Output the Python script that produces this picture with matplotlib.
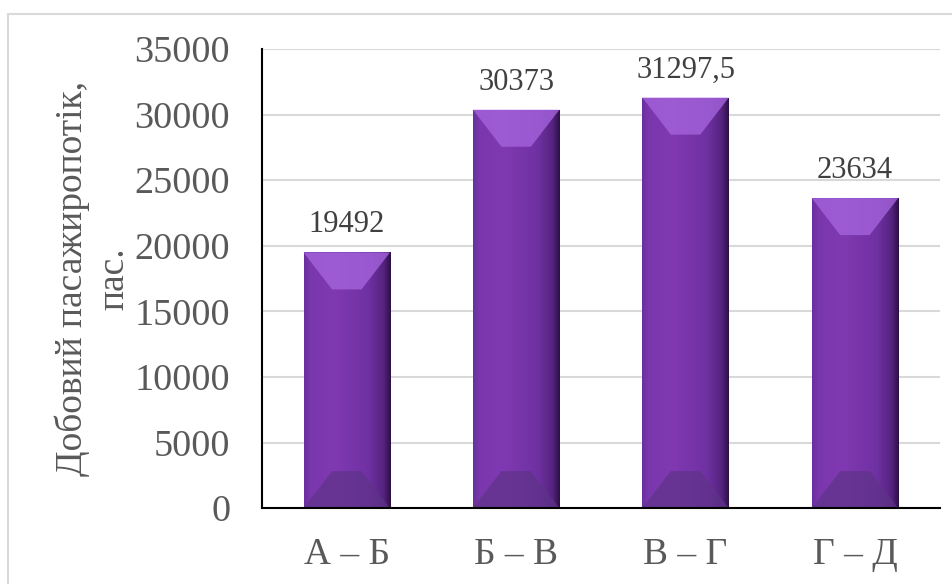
import numpy as np
import matplotlib.pyplot as plt
from matplotlib.patches import Polygon, Rectangle
from matplotlib.colors import LinearSegmentedColormap

# ділянки маршруту та добовий пасажиропотік
sections = ["А – Б", "Б – В", "В – Г", "Г – Д"]
flows = [19492, 30373, 31297.5, 23634]
flow_labels = ["19492", "30373", "31297,5", "23634"]
y_ticks = [0, 5000, 10000, 15000, 20000, 25000, 30000, 35000]

plt.rcParams['font.family'] = ['Liberation Serif', 'DejaVu Serif']

fig = plt.figure(figsize=(9.53, 5.84), dpi=100)
fig.patches.append(Rectangle((8 / 953, -0.05), 1.1, 1 - 14 / 584 + 0.05,
                             transform=fig.transFigure, fill=False,
                             edgecolor="#d9d9d9", linewidth=1.5, zorder=0))
ax = fig.add_axes([0.275, 0.130, 0.711, 0.786])

x = np.arange(len(sections))
bars = ax.bar(x, flows, width=0.51, color="none", edgecolor="none", zorder=3)

# горизонтальний градієнт для об'ємного вигляду стовпців
bar_cmap = LinearSegmentedColormap.from_list(
    "bevel", [(0.0, "#6a2f9e"), (0.08, "#7a37ad"), (0.35, "#8039b2"),
              (0.75, "#6f31a2"), (0.92, "#55237f"), (1.0, "#2c1045")])
grad = np.linspace(0, 1, 256).reshape(1, -1)

for b in bars:
    x0, w, h = b.get_x(), b.get_width(), b.get_height()
    im = ax.imshow(grad, cmap=bar_cmap, aspect="auto",
                   extent=(x0, x0 + w, 0, h), zorder=3)
    im.set_clip_path(b)
    # скоси зверху та знизу
    dx = w * 0.33
    dy = 35000 * 37 / 459
    top = Polygon([(x0, h), (x0 + w, h), (x0 + w - dx, h - dy), (x0 + dx, h - dy)],
                  closed=True, facecolor="#a463dc", alpha=0.8, edgecolor="none", zorder=4)
    bottom = Polygon([(x0, 0), (x0 + w, 0), (x0 + w - dx, dy), (x0 + dx, dy)],
                     closed=True, facecolor="#5e3388", alpha=0.7, edgecolor="none", zorder=4)
    ax.add_patch(top)
    ax.add_patch(bottom)

for b, lab in zip(bars, flow_labels):
    ax.text(b.get_x() + b.get_width() / 2, b.get_height() + 1000, lab,
            ha="center", va="bottom", fontsize=22, color="#404040", zorder=5)

ax.set_xlim(-0.5, len(sections) - 0.5)
ax.set_ylim(0, 35000)
ax.set_yticks(y_ticks)
ax.set_xticks(x)
ax.set_xticklabels(sections)
ax.tick_params(axis="x", length=0, labelsize=27, colors="#595959", pad=21)
ax.tick_params(axis="y", length=0, labelsize=27.5, colors="#595959", pad=23)
ax.yaxis.grid(True, color="#d9d9d9", linewidth=1.5, zorder=0)
ax.set_axisbelow(True)

for side in ["top", "right"]:
    ax.spines[side].set_visible(False)
for side in ["left", "bottom"]:
    ax.spines[side].set_color("black")
    ax.spines[side].set_linewidth(1.5)
    ax.spines[side].set_zorder(6)

ax.set_ylabel("Добовий пасажиропотік,\nпас.", fontsize=27, color="#595959",
              linespacing=1.25)
ax.yaxis.set_label_coords(-0.193, 0.5)

fig.savefig("out.png", dpi=100)
